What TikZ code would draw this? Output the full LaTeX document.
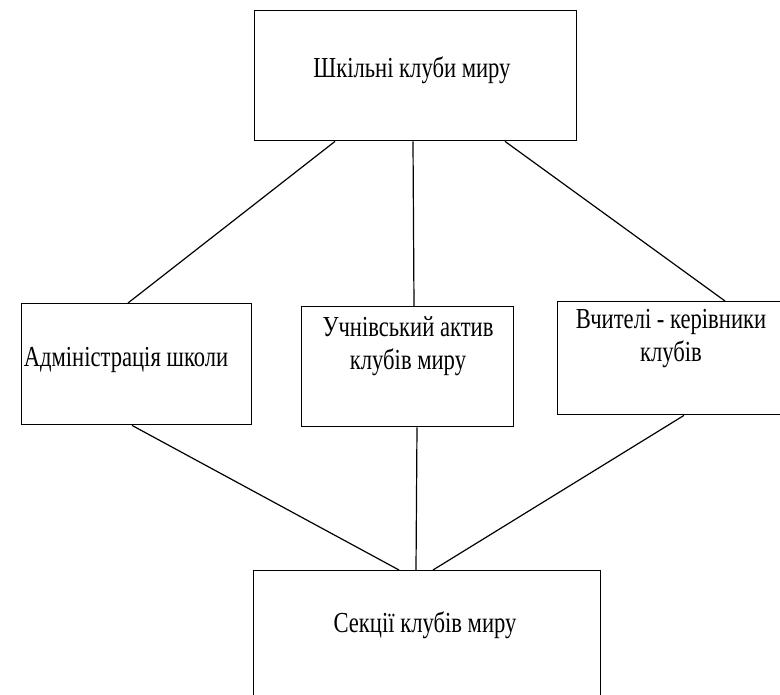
\documentclass[tikz,border=0pt]{standalone}
\usepackage{fontspec}
\setmainfont{Liberation Serif}[FakeStretch=0.78]
\begin{document}
\begin{tikzpicture}[x=1pt,y=-1pt,
  box/.style={draw,line width=1.4pt,inner sep=0pt,anchor=north west},
  lbl/.style={font=\fontsize{29}{33}\selectfont,align=center,inner sep=0pt},
  conn/.style={line width=1.2pt}]
\useasboundingbox (0,0) rectangle (780,695);
\clip (0,0) rectangle (780,695);
\node[box,minimum width=322pt,minimum height=130pt] (top) at (254,10) {};
\node[box,minimum width=230pt,minimum height=121pt] (adm) at (21,303) {};
\node[box,minimum width=212pt,minimum height=120pt] (act) at (301,306) {};
\node[box,minimum width=240pt,minimum height=113pt] (tch) at (557,301) {};
\node[box,minimum width=347pt,minimum height=140pt] (sec) at (253,570) {};
\node[lbl] (ttop) at (412,70) {Шкільні клуби миру};
\node[lbl] (tadm) at (126,360) {Адміністрація школи};
\node[lbl] (tact) at (408,346) {Учнівський актив\\клубів миру};
\node[lbl] (ttch) at (671,339) {Вчителі - керівники\\клубів};
\node[lbl] (tsec) at (425,625) {Секції клубів миру};
\draw[conn] ([xshift=81pt]top.south west) -- ([xshift=107pt]adm.north west);
\draw[conn] ([xshift=159pt]top.south west) -- ([xshift=113pt]act.north west);
\draw[conn] ([xshift=251pt]top.south west) -- ([xshift=168pt]tch.north west);
\draw[conn] ([xshift=111pt]adm.south west) -- ([xshift=146pt]sec.north west);
\draw[conn] ([xshift=116pt]act.south west) -- ([xshift=163pt]sec.north west);
\draw[conn] ([xshift=127pt]tch.south west) -- ([xshift=180pt]sec.north west);
\end{tikzpicture}
\end{document}
